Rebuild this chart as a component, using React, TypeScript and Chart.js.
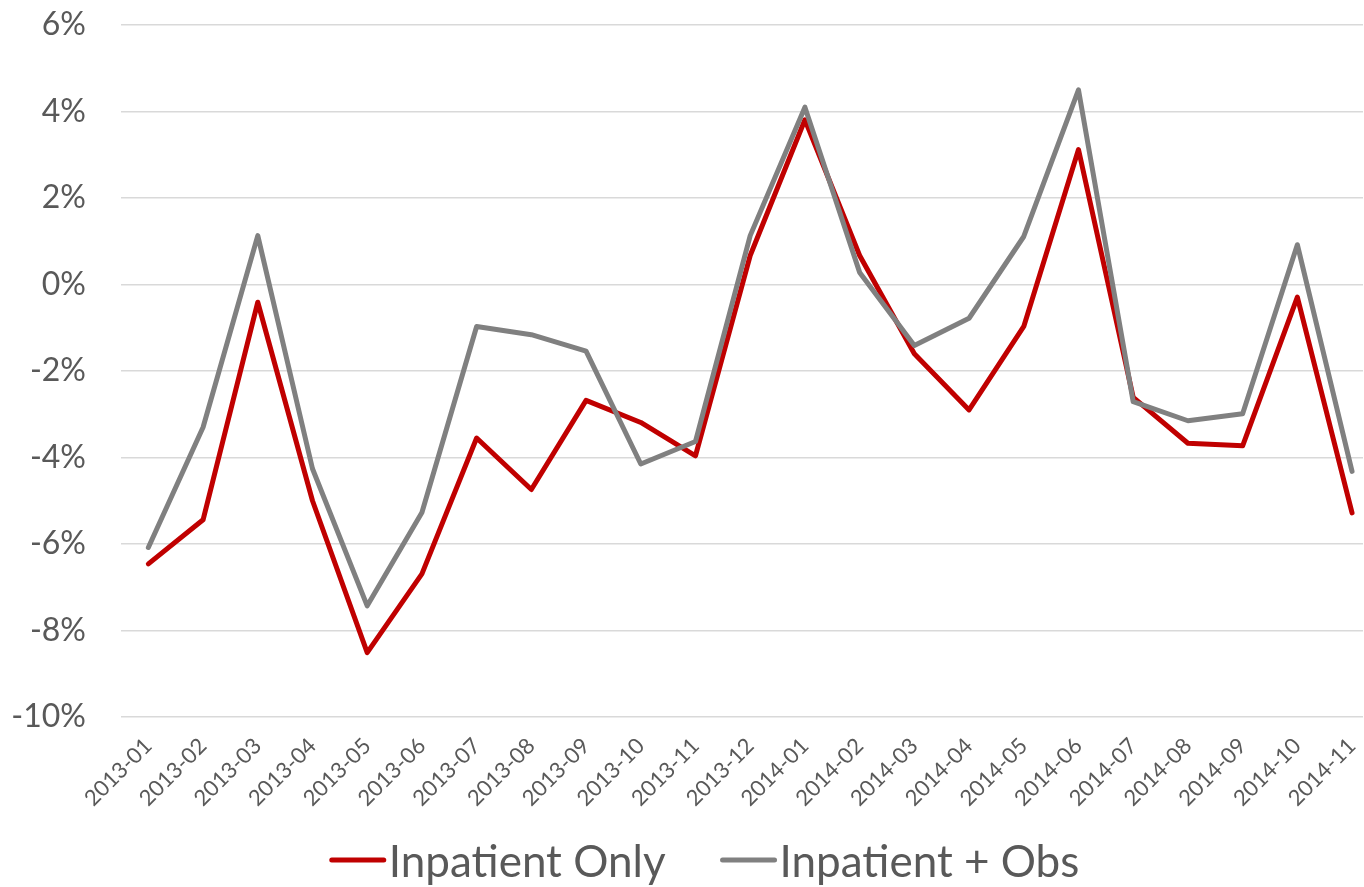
import React, { useEffect, useRef } from 'react';
import { Chart, registerables } from 'chart.js';

Chart.register(...registerables);

const categories = [
  '2013-01', '2013-02', '2013-03', '2013-04', '2013-05', '2013-06', '2013-07', '2013-08',
  '2013-09', '2013-10', '2013-11', '2013-12', '2014-01', '2014-02', '2014-03', '2014-04',
  '2014-05', '2014-06', '2014-07', '2014-08', '2014-09', '2014-10', '2014-11',
];

const inpatientOnly = [
  -6.46, -5.44, -0.41, -5.0, -8.51, -6.69, -3.55, -4.74, -2.68, -3.19, -3.96, 0.67,
  3.81, 0.67, -1.6, -2.9, -0.97, 3.12, -2.61, -3.67, -3.73, -0.29, -5.28,
];

const inpatientObs = [
  -6.08, -3.3, 1.13, -4.26, -7.43, -5.27, -0.97, -1.16, -1.54, -4.15, -3.63, 1.13,
  4.1, 0.28, -1.41, -0.78, 1.11, 4.5, -2.71, -3.15, -2.99, 0.92, -4.32,
];

const seriesLabels = ['Inpatient Only', 'Inpatient + Obs'];
const seriesColors = ['#c00000', '#808080'];

const yMin = -10;
const yMax = 6;
const yStep = 2;

const FONT = 'Lato, "Open Sans", sans-serif';
const TEXT_COLOR = '#595959';

const legendPlugin = {
  id: 'customLegend',
  afterDraw(chart: any) {
    const ctx = chart.ctx as CanvasRenderingContext2D;
    const datasets = chart.data.datasets;
    ctx.save();
    ctx.font = `44px ${FONT}`;
    const lineW = 56;
    const gapText = 3;
    const gapItem = 55;
    const widths = datasets.map((d: any) => ctx.measureText(d.label).width);
    let total = 0;
    widths.forEach((w: number, i: number) => {
      total += lineW + gapText + w + (i > 0 ? gapItem : 0);
    });
    let x = 704.5 - total / 2;
    const lineY = 860;
    const baseY = 876.5;
    datasets.forEach((d: any, i: number) => {
      ctx.strokeStyle = d.borderColor;
      ctx.lineWidth = 5;
      ctx.lineCap = 'round';
      ctx.beginPath();
      ctx.moveTo(x + 2, lineY);
      ctx.lineTo(x + lineW - 2, lineY);
      ctx.stroke();
      x += lineW + gapText;
      ctx.fillStyle = TEXT_COLOR;
      ctx.textAlign = 'left';
      ctx.textBaseline = 'alphabetic';
      ctx.fillText(d.label, x, baseY);
      x += widths[i] + gapItem;
    });
    ctx.restore();
  },
};

export default function App() {
  const canvasRef = useRef<HTMLCanvasElement | null>(null);

  useEffect(() => {
    document.body.style.margin = '0';
    const canvas = canvasRef.current;
    if (!canvas) return;
    const toPoints = (arr: number[]) => arr.map((v, i) => ({ x: i, y: v }));
    const chart = new Chart(canvas, {
      type: 'line',
      data: {
        datasets: [
          {
            label: seriesLabels[0],
            data: toPoints(inpatientOnly),
            borderColor: seriesColors[0],
            backgroundColor: seriesColors[0],
            borderWidth: 5,
            pointRadius: 0,
            tension: 0,
            borderJoinStyle: 'round',
            borderCapStyle: 'round',
            order: 1,
          },
          {
            label: seriesLabels[1],
            data: toPoints(inpatientObs),
            borderColor: seriesColors[1],
            backgroundColor: seriesColors[1],
            borderWidth: 5,
            pointRadius: 0,
            tension: 0,
            borderJoinStyle: 'round',
            borderCapStyle: 'round',
            order: 0,
          },
        ],
      },
      options: {
        responsive: false,
        animation: false,
        devicePixelRatio: 1,
        layout: { padding: { top: 25, right: 1, bottom: 50, left: 0 } },
        plugins: {
          legend: { display: false },
          tooltip: { enabled: false },
        },
        scales: {
          x: {
            type: 'linear',
            min: -0.5,
            max: 22.2,
            grid: { display: false, drawTicks: false },
            border: { display: false },
            afterBuildTicks: (s: any) => {
              s.ticks = categories.map((_, i) => ({ value: i }));
            },
            afterFit: (s: any) => {
              s.height = 120;
              s.paddingLeft = 0;
              s.paddingRight = 0;
            },
            ticks: {
              autoSkip: false,
              minRotation: 45,
              maxRotation: 45,
              padding: 16,
              color: TEXT_COLOR,
              font: { family: FONT, size: 22 },
              callback: (v: any) => {
                const n = Number(v);
                return Number.isInteger(n) && categories[n] ? categories[n] : '';
              },
            },
          },
          y: {
            min: yMin,
            max: yMax,
            grid: {
              color: '#d9d9d9',
              lineWidth: 1.5,
              drawTicks: true,
              tickLength: 35,
              tickColor: 'rgba(0,0,0,0)',
            },
            border: { display: false },
            afterFit: (s: any) => {
              s.width = 121;
              s.paddingTop = 0;
              s.paddingBottom = 0;
            },
            ticks: {
              stepSize: yStep,
              padding: 0,
              color: TEXT_COLOR,
              font: { family: FONT, size: 32 },
              callback: (v: any) => `${v}%`,
            },
          },
        },
      },
      plugins: [legendPlugin],
    });
    return () => chart.destroy();
  }, []);

  return <canvas ref={canvasRef} width={1364} height={887} style={{ display: 'block' }} />;
}
